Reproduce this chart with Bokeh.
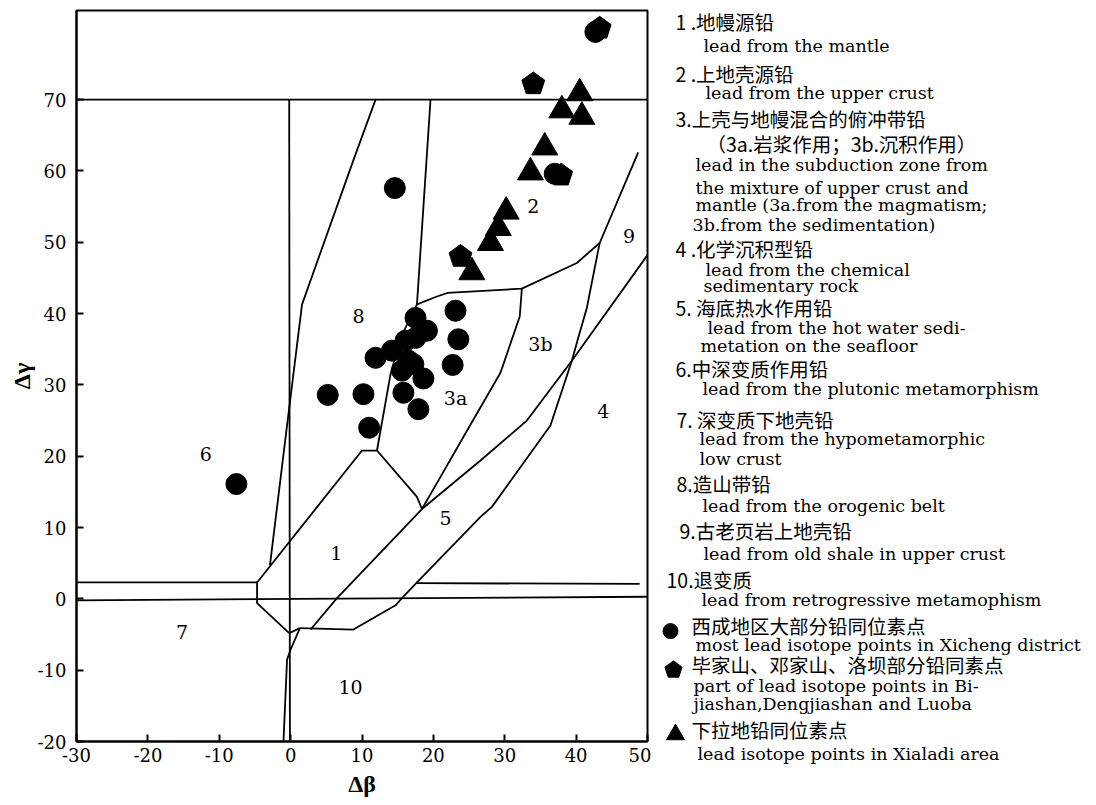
from bokeh.plotting import figure
from bokeh.models import Range1d, FixedTicker, Label, Title
from bokeh.layouts import row
from bokeh.embed import file_html
from bokeh.resources import INLINE
from bokeh.core.properties import value

# ---------------- data ----------------
x_ticks = [-30, -20, -10, 0, 10, 20, 30, 40, 50]
y_ticks = [-20, -10, 0, 10, 20, 30, 40, 50, 60, 70]

# Xicheng district (circles)
xicheng_db = [14.6, -7.6, 5.2, 10.2, 11.0, 17.9, 15.8, 18.6, 11.9, 14.2, 15.6,
              17.2, 17.5, 19.1, 17.5, 16.1, 16.5, 23.1, 23.5, 22.7, 42.7, 37.0]
xicheng_dg = [57.6, 16.1, 28.6, 28.7, 24.0, 26.6, 28.9, 30.9, 33.8, 34.8, 32.0,
              32.9, 39.4, 37.6, 36.6, 36.2, 33.4, 40.4, 36.4, 32.8, 79.5, 59.6]
# Bijiashan, Dengjiashan, Luoba (pentagons)
bdl_db = [43.3, 34.0, 37.9, 23.8]
bdl_dg = [80.0, 72.2, 59.4, 48.0]
# Xialadi (triangles)
xld_db = [40.5, 38.0, 40.8, 35.6, 33.6, 30.2, 29.1, 28.0, 25.4]
xld_dg = [70.9, 68.5, 67.6, 63.3, 59.8, 54.3, 52.0, 49.9, 45.8]

# field boundary lines
top70_x = [-30, 50]
top70_y = [70, 70]
vert0_x = [-0.2, -0.1]
vert0_y = [70, -20]
f8left_x = [11.9, 8.9, 1.6, -0.7, -2.9]
f8left_y = [70, 61.8, 41.3, 22.7, 4.7]
f8right_x = [19.6, 17.7, 15.4, 14.0, 12.1]
f8right_y = [70, 41.3, 36.6, 31.5, 20.8]
f1top_x = [-4.7, 10.0, 12.1, 17.7, 18.4]
f1top_y = [2.3, 20.8, 20.8, 14.3, 12.6]
f3ab_x = [18.4, 21.0, 24.2, 29.4, 32.1, 32.4]
f3ab_y = [12.6, 17.1, 22.7, 31.7, 39.6, 43.5]
f3top_x = [17.7, 18.5, 20.5, 22.0, 32.4, 40.1, 43.3]
f3top_y = [41.3, 41.6, 42.4, 42.9, 43.5, 47.1, 49.9]
f9_x = [43.3, 48.7]
f9_y = [49.9, 62.6]
lineA_x = [2.8, 6.5, 18.4, 26.6, 33.1, 39.4, 50.0]
lineA_y = [-4.3, 0.1, 12.6, 19.4, 25.0, 33.4, 48.2]
lineB_x = [43.3, 41.5, 40.3, 39.4, 36.4, 28.2, 26.6, 17.7, 15.6, 14.7, 8.8, 1.3]
lineB_y = [49.9, 40.8, 36.6, 33.4, 24.3, 12.9, 11.5, 2.3, 0.1, -0.9, -4.3, -4.1]
f10_x = [1.3, 0.0, -0.5, -1.0]
f10_y = [-4.1, -7.1, -8.5, -20]
f7_x = [-4.7, -4.7, -0.2, 1.3]
f7_y = [2.3, -0.6, -4.8, -4.1]
hup_left_x = [-30, -4.7]
hup_left_y = [2.3, 2.3]
hup_right_x = [17.6, 48.9]
hup_right_y = [2.2, 2.1]
hlow_x = [-30, 50]
hlow_y = [-0.2, 0.3]

field_names = ["1", "2", "3a", "3b", "4", "5", "6", "7", "8", "9", "10"]
field_x = [6.4, 34.0, 23.1, 35.0, 43.8, 21.7, -11.9, -15.2, 9.5, 47.4, 8.4]
field_y = [6.5, 55.1, 28.2, 35.8, 26.4, 11.3, 20.3, -4.7, 39.7, 50.9, -12.3]

# legend texts
legend_cn = ["1 .地幔源铅", "2 .上地壳源铅", "3.上壳与地幔混合的俯冲带铅",
             "（3a.岩浆作用；3b.沉积作用）", "4 .化学沉积型铅", "5. 海底热水作用铅",
             "6.中深变质作用铅", "7. 深变质下地壳铅", "8.造山带铅", "9.古老页岩上地壳铅",
             "10.退变质", "西成地区大部分铅同位素点", "毕家山、邓家山、洛坝部分铅同素点",
             "下拉地铅同位素点"]
legend_cn_px = [675, 675, 675, 706, 675, 675, 675, 676, 676, 679, 666, 691, 691, 691]
legend_cn_py = [21, 73, 119, 144, 249, 309, 370, 421, 486, 533, 582, 628, 668, 733]

legend_en = ["lead from the mantle", "lead from the upper crust",
             "lead in the subduction zone from", "the mixture of upper crust and",
             "mantle (3a.from the magmatism;", "3b.from the sedimentation)",
             "lead from the chemical", "sedimentary rock",
             "lead from the  hot water sedi-", "metation on the seafloor",
             "lead from the plutonic metamorphism", "lead from the hypometamorphic",
             "low crust", "lead from the orogenic belt",
             "lead from  old shale in upper crust", "lead from retrogressive metamophism",
             "most  lead isotope points in Xicheng district",
             "part of lead isotope points in Bi-", "jiashan,Dengjiashan and Luoba"]
legend_en_px = [703, 705, 695, 695, 695, 692, 705, 703, 707, 700, 702, 699, 699,
                702, 703, 701, 695, 693, 693]
legend_en_py = [46, 93, 165, 188, 206, 226, 271, 287, 329, 347, 391, 441, 461,
                508, 556, 603, 648, 689, 707]
legend_last = "lead isotope points in Xialadi area"
legend_last_px = 697

# ---------------- layout constants (page pixels) ----------------
ORIGIN = 0
B_LEFT, B_RIGHT, B_TOP, B_BOTTOM = 76, 4, 10, 54
FRAME_W, FRAME_H = 571, 735
W_MAIN = B_LEFT + FRAME_W + B_RIGHT
H = B_TOP + FRAME_H + B_BOTTOM
W_TXT = 443

# ---------------- main plot ----------------
p = figure(width=W_MAIN, height=H, output_backend="svg", toolbar_location=None,
           x_range=Range1d(-30, 50), y_range=Range1d(-20, 82.5),
           min_border_left=B_LEFT, min_border_right=B_RIGHT,
           min_border_top=B_TOP, min_border_bottom=B_BOTTOM)
p.xgrid.visible = False
p.ygrid.visible = False
p.outline_line_color = "black"
p.outline_line_width = 2

for ax, ticks in ((p.xaxis, x_ticks), (p.yaxis, y_ticks)):
    ax.ticker = FixedTicker(ticks=ticks)
    ax.major_label_overrides = {v: str(v) for v in ticks}
    ax.major_tick_in = 7
    ax.major_tick_out = 0
    ax.minor_tick_line_color = None
    ax.axis_line_width = 2
    ax.major_tick_line_width = 2
    ax.major_label_text_font = "DejaVu Serif"
    ax.major_label_text_font_size = "18px"
    ax.major_label_text_color = "black"
    ax.axis_label_text_font = "Liberation Serif"
    ax.axis_label_text_font_style = "bold"
    ax.axis_label_text_font_size = "24px"
    ax.axis_label_text_color = "black"
p.xaxis.major_label_standoff = 6
p.yaxis.major_label_standoff = 10
p.xaxis.axis_label = "Δβ"
p.yaxis.axis_label = "Δγ"
p.xaxis.axis_label_standoff = 6
p.yaxis.axis_label_standoff = 0

lines = [(top70_x, top70_y), (vert0_x, vert0_y), (f8left_x, f8left_y),
         (f8right_x, f8right_y), (f1top_x, f1top_y), (f3ab_x, f3ab_y),
         (f3top_x, f3top_y), (f9_x, f9_y), (lineA_x, lineA_y), (lineB_x, lineB_y),
         (f10_x, f10_y), (f7_x, f7_y), (hup_left_x, hup_left_y),
         (hup_right_x, hup_right_y), (hlow_x, hlow_y)]
for lx, ly in lines:
    p.line(lx, ly, line_color="black", line_width=1.8)

p.text(x=field_x, y=field_y, text=field_names, text_font=value("DejaVu Serif"),
       text_font_size="19px", text_align="center", text_baseline="middle",
       text_color="black")

p.scatter(xicheng_db, xicheng_dg, marker="circle", size=21, color="black")
p.ngon(x=bdl_db, y=bdl_dg, radius=12, radius_units="screen", n=5,
       fill_color="black", line_color="black")
p.scatter(xld_db, xld_dg, marker="triangle", size=26, color="black")

# ---------------- legend / text panel (page pixel coordinates) ----------------
X0 = ORIGIN + W_MAIN
t = figure(width=W_TXT, height=H, output_backend="svg", toolbar_location=None,
           x_range=Range1d(X0, X0 + W_TXT),
           y_range=Range1d(ORIGIN + B_TOP + FRAME_H, ORIGIN + B_TOP),
           x_axis_type=None, y_axis_type=None,
           min_border_left=0, min_border_right=0,
           min_border_top=B_TOP, min_border_bottom=B_BOTTOM)
t.outline_line_color = None
t.xgrid.visible = False
t.ygrid.visible = False

for s, px, py in zip(legend_cn, legend_cn_px, legend_cn_py):
    t.add_layout(Label(x=px, y=py, text=s, text_font="Noto Sans CJK SC",
                       text_font_size="19.5px", text_align="left",
                       text_baseline="middle", text_color="black"))
for s, px, py in zip(legend_en, legend_en_px, legend_en_py):
    t.add_layout(Label(x=px, y=py, text=s, text_font="DejaVu Serif",
                       text_font_size="17.5px", text_align="left",
                       text_baseline="middle", text_color="black"))
# last line lies below the frame: put it in the panel under the frame
t.add_layout(Title(text=legend_last, align="left", offset=legend_last_px - X0,
                   standoff=0, text_font="DejaVu Serif", text_font_size="17.5px",
                   text_font_style="normal", text_color="black"), "below")

t.scatter([670], [634], marker="circle", size=15, color="black")
t.ngon(x=[673], y=[673], radius=9, radius_units="screen", n=5,
       fill_color="black", line_color="black")
t.scatter([675], [738], marker="triangle", size=18, color="black")

layout = row(p, t, spacing=0)
open("out.html", "w").write(file_html(layout, INLINE))
